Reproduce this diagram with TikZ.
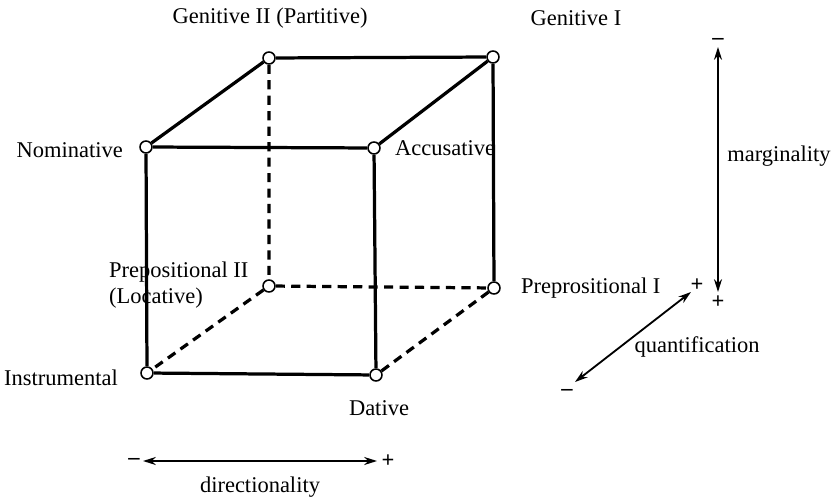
\documentclass[tikz,border=0pt]{standalone}
\usepackage{fontspec}
\setmainfont{Liberation Serif}
\usetikzlibrary{arrows.meta}

\begin{document}
\begin{tikzpicture}[
    x=0.025cm, y=-0.025cm,
    vertex/.style={draw, circle, minimum size=0.3cm, inner sep=0pt, line width=1.1pt, fill=white},
    edge/.style={line width=2.3pt},
    hidden/.style={edge, dash pattern=on 6.5pt off 4.5pt},
    case/.style={font=\fontsize{16}{18}\selectfont, inner sep=2pt},
    axis/.style={line width=1.3pt, {Stealth[length=3.2mm, width=2mm]}-{Stealth[length=3.2mm, width=2mm]}},
    sign/.style={font=\fontsize{16}{16}\selectfont\bfseries, inner sep=0pt}
]
\useasboundingbox (0,0) rectangle (831,498);

% cube corners
\node[vertex] (nom) at (146,147) {};
\node[vertex] (acc) at (374,148) {};
\node[vertex] (ins) at (147,373) {};
\node[vertex] (dat) at (376,375) {};
\node[vertex] (gen2) at (269,58) {};
\node[vertex] (gen1) at (493,57) {};
\node[vertex] (prep2) at (269,286) {};
\node[vertex] (prep1) at (494,288) {};

% hidden edges
\draw[hidden] (gen2) -- (prep2) (prep2) -- (ins) (prep2) -- (prep1) (prep1) -- (dat);
% visible edges
\draw[edge] (nom) -- (acc) (nom) -- (gen2) (gen2) -- (gen1) (acc) -- (gen1)
    (nom) -- (ins) (ins) -- (dat) (acc) -- (dat) (gen1) -- (prep1);

% case labels
\node[case] (lgen2) at (270,18) {Genitive II (Partitive)};
\node[case] (lgen1) at (576,18) {Genitive I};
\node[case, anchor=east] (lnom) at (126,150) {Nominative};
\node[case, anchor=west] (lacc) at (392,148) {Accusative};
\node[case, anchor=west, align=left] (lprep2) at (106,285) {Prepositional II\\(Locative)};
\node[case, anchor=west] (lprep1) at (518,288) {Preprositional I};
\node[case, anchor=east] (lins) at (121,378) {Instrumental};
\node[case] (ldat) at (379,408) {Dative};

% marginality
\coordinate (mtop) at (718,47);
\coordinate (mbot) at (718,292);
\draw[axis] (mtop) -- (mbot);
\node[sign] (mminus) at (718,41) {--};
\node[sign] (mplus) at (718,302) {+};
\node[case] (lmarg) at (779,156) {marginality};

% quantification
\coordinate (qtop) at (691,292);
\coordinate (qbot) at (575,382);
\draw[axis] (qtop) -- (qbot);
\node[sign] (qplus) at (697,285) {+};
\node[sign] (qminus) at (567,392) {--};
\node[case] (lquant) at (697,347) {quantification};

% directionality
\coordinate (dleft) at (143,461);
\coordinate (dright) at (377,461);
\draw[axis] (dleft) -- (dright);
\node[sign] (dminus) at (134,461) {--};
\node[sign] (dplus) at (388,461) {+};
\node[case] (ldir) at (260,487) {directionality};
\end{tikzpicture}
\end{document}
